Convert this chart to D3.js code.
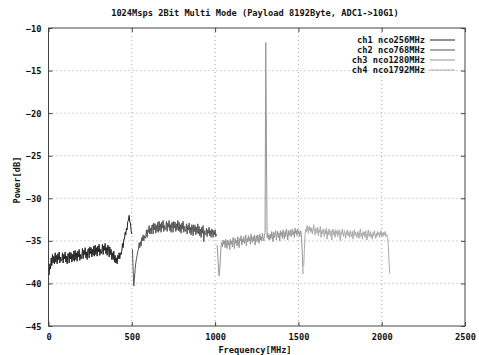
<!DOCTYPE html>
<html><head><meta charset="utf-8">
<script src="https://cdn.jsdelivr.net/npm/d3@7"></script>
<style>
html,body{margin:0;padding:0;background:#fff;}
text{font-family:"DejaVu Sans Mono","Liberation Mono",monospace;font-weight:bold;font-size:8.7px;fill:#111;}
</style></head>
<body><svg id="c" width="479" height="355"></svg>
<script>
const title = "1024Msps 2Bit Multi Mode (Payload 8192Byte, ADC1->10G1)";
const xLabel = "Frequency[MHz]";
const yLabel = "Power[dB]";
const xTicks = [0, 500, 1000, 1500, 2000, 2500];
const yTicks = [-10, -15, -20, -25, -30, -35, -40, -45];
const channels = ["ch1 nco256MHz", "ch2 nco768MHz", "ch3 nco1280MHz", "ch4 nco1792MHz"];
const colors = ["#222222", "#555555", "#959595", "#aaaaaa"];
const binStep = 4; // MHz per bin
const startFreq = [0, 504, 1012, 1532];

const ch1 = [-38.6,-39.0,-37.7,-38.3,-37.0,-37.9,-36.6,-37.6,-36.8,-37.7,
-36.4,-37.5,-36.7,-37.7,-36.5,-37.2,-36.3,-37.6,-36.9,-37.4,
-37.3,-36.4,-37.6,-36.6,-37.1,-36.3,-37.5,-36.8,-37.7,-36.5,
-36.5,-37.6,-36.3,-37.1,-36.4,-37.5,-36.6,-37.3,-36.2,-37.4,
-36.1,-37.2,-36.4,-37.4,-36.2,-36.9,-36.0,-37.3,-36.6,-37.1,
-36.8,-35.9,-37.1,-36.1,-36.6,-35.8,-37.0,-36.3,-37.2,-36.0,
-35.9,-37.0,-35.7,-36.5,-35.8,-36.9,-36.0,-36.7,-35.6,-36.8,
-35.5,-36.6,-35.8,-36.8,-35.6,-36.3,-35.4,-36.7,-36.0,-36.5,
-36.3,-35.4,-36.6,-35.6,-36.1,-35.3,-36.5,-35.8,-36.7,-35.5,
-35.7,-36.9,-35.7,-36.6,-36.0,-37.2,-36.4,-37.2,-36.2,-37.5,
-36.7,-37.6,-37.0,-37.7,-36.7,-37.1,-36.4,-37.1,-36.4,-36.6,
-36.2,-35.3,-35.8,-34.8,-34.8,-34.0,-34.3,-33.5,-33.7,-32.7,
-32.6,-32.0,-32.8,-32.9,-33.8,-34.2];

const ch2 = [-36.0,-38.5,-40.3,-39.4,-38.3,-37.6,-37.1,-36.7,-36.2,-36.0,
-35.2,-35.8,-35.1,-35.6,-34.6,-35.0,-34.3,-35.0,-34.4,-34.7,
-34.5,-33.7,-34.6,-33.7,-34.0,-33.2,-34.2,-33.5,-34.2,-33.2,
-33.1,-34.2,-32.9,-33.7,-33.0,-34.1,-33.2,-33.9,-32.8,-34.0,
-32.7,-33.8,-33.0,-34.0,-32.8,-33.5,-32.6,-33.9,-33.2,-33.7,
-33.6,-32.7,-33.9,-32.9,-33.4,-32.6,-33.8,-33.1,-34.0,-32.8,
-32.9,-34.0,-32.7,-33.5,-32.8,-33.9,-33.0,-33.7,-32.6,-33.8,
-32.8,-33.9,-33.1,-34.1,-32.9,-33.6,-32.7,-34.0,-33.3,-33.8,
-33.9,-33.0,-34.2,-33.2,-33.7,-32.9,-34.1,-33.4,-34.3,-33.1,
-33.3,-34.4,-33.1,-33.9,-33.2,-34.3,-33.4,-34.1,-33.0,-34.2,
-33.3,-34.4,-33.6,-34.6,-33.4,-34.1,-33.2,-35.1,-33.8,-34.3,
-34.2,-33.5,-34.5,-33.7,-34.1,-33.4,-34.4,-33.8,-34.6,-33.6,
-33.7,-34.6,-33.8,-34.3,-33.7,-34.5,-34.2];

const ch3 = [-35.5,-36.6,-38.2,-39.1,-38.4,-37.0,-35.6,-35.2,-35.7,-34.9,
-35.4,-35.0,-35.8,-34.8,-35.3,-35.9,-34.9,-35.5,-35.1,-36.0,
-34.8,-35.4,-35.0,-35.7,-34.6,-35.2,-35.9,-34.7,-35.3,-34.9,
-35.6,-34.5,-35.1,-35.8,-34.7,-35.0,-34.4,-35.5,-34.8,-35.2,
-34.5,-35.3,-34.9,-34.3,-35.6,-34.7,-35.1,-34.4,-35.0,-34.6,
-35.4,-34.2,-34.9,-35.2,-34.5,-35.0,-34.3,-35.5,-34.7,-34.4,
-35.1,-34.3,-34.8,-35.3,-34.2,-34.9,-34.5,-35.0,-34.1,-34.7,
-35.0,-34.4,-34.0,-11.7,-23.4,-34.6,-34.1,-34.8,-34.3,-34.9,
-34.2,-34.7,-33.9,-34.5,-35.1,-34.0,-34.6,-34.2,-33.8,-34.9,
-34.3,-33.9,-34.6,-34.1,-35.0,-33.8,-34.4,-34.0,-34.7,-33.7,
-34.3,-34.8,-33.9,-34.5,-33.6,-34.2,-34.9,-33.8,-34.4,-34.0,
-33.7,-34.5,-34.0,-33.6,-34.3,-33.9,-34.6,-33.5,-34.1,-33.8,
-34.4,-33.6,-34.2,-33.9,-34.5,-33.8,-34.0,-35.0,-36.8,-38.9];

const ch4 = [-38.0,-36.0,-34.3,-33.6,-33.9,-33.2,-33.7,-34.1,-33.3,-33.8,
-33.4,-34.0,-33.5,-34.2,-33.6,-33.1,-33.9,-34.3,-33.5,-33.8,
-34.1,-33.4,-34.4,-33.7,-34.0,-33.3,-34.6,-33.8,-34.2,-33.6,
-34.0,-34.5,-33.7,-34.2,-33.5,-34.8,-33.9,-34.3,-33.6,-34.1,
-34.4,-33.8,-34.9,-34.0,-33.6,-34.3,-33.9,-34.6,-33.7,-34.2,
-33.8,-34.5,-34.1,-33.7,-34.4,-35.0,-33.9,-34.3,-33.6,-34.2,
-34.5,-33.8,-34.1,-34.7,-33.9,-34.3,-33.7,-34.4,-34.0,-34.6,
-33.8,-34.2,-34.5,-33.9,-34.8,-34.1,-33.7,-34.4,-34.0,-34.3,
-34.6,-33.9,-34.2,-34.7,-34.0,-33.6,-34.5,-34.1,-34.8,-33.9,
-34.3,-34.0,-34.6,-33.8,-34.4,-34.9,-34.1,-33.7,-34.5,-34.2,
-33.9,-34.6,-34.2,-34.8,-34.0,-34.4,-33.8,-34.3,-34.7,-34.1,
-34.5,-33.9,-34.3,-34.0,-34.6,-34.2,-33.8,-34.4,-34.1,-34.5,
-34.0,-34.3,-33.9,-34.5,-34.2,-34.4,-34.6,-35.8,-37.4,-38.8];

const series = [ch1, ch2, ch3, ch4];

const svg = d3.select("#c");
const L = 48.5, R = 465, T = 28, B = 326;
const x = d3.scaleLinear().domain([0, 2500]).range([L, R]);
const y = d3.scaleLinear().domain([-45, -10]).range([B, T]);

// grid
const g = svg.append("g");
g.selectAll(".gx").data(xTicks.slice(1, -1)).join("line")
  .attr("x1", d => x(d)).attr("x2", d => x(d)).attr("y1", T).attr("y2", B)
  .attr("stroke", "#a8a8a8").attr("stroke-width", 1).attr("stroke-dasharray", "1,3");
g.selectAll(".gy").data(yTicks.slice(1, -1)).join("line")
  .attr("x1", L).attr("x2", R).attr("y1", d => y(d)).attr("y2", d => y(d))
  .attr("stroke", "#a8a8a8").attr("stroke-width", 1).attr("stroke-dasharray", "1,3");

// axes with mirrored inward ticks
const axB = svg.append("g").attr("transform", `translate(0,${B})`)
  .call(d3.axisBottom(x).tickValues(xTicks).tickSize(-4).tickPadding(8).tickFormat(d3.format("d")));
const axT = svg.append("g").attr("transform", `translate(0,${T})`)
  .call(d3.axisTop(x).tickValues(xTicks).tickSize(-4).tickFormat(""));
const axL = svg.append("g").attr("transform", `translate(${L},0)`)
  .call(d3.axisLeft(y).tickValues(yTicks).tickSize(-4).tickPadding(7).tickFormat(d3.format("d")));
const axR = svg.append("g").attr("transform", `translate(${R},0)`)
  .call(d3.axisRight(y).tickValues(yTicks).tickSize(-4).tickFormat(""));
[axB, axT, axL, axR].forEach(a => {
  a.select(".domain").remove();
  a.selectAll(".tick line").attr("stroke", "#444");
  a.selectAll("text").attr("fill", "#111").attr("font-family", null).attr("font-size", null);
});
axL.selectAll("text").attr("dy", "0.35em");

// lines
const line = d3.line().x(d => x(d[0])).y(d => y(d[1]));
series.forEach((vals, k) => {
  const pts = vals.map((v, i) => [startFreq[k] + i * binStep, v]);
  svg.append("path").datum(pts).attr("d", line)
    .attr("fill", "none").attr("stroke", colors[k]).attr("stroke-width", 1);
});

// frame
svg.append("rect").attr("x", L).attr("y", T).attr("width", R - L).attr("height", B - T)
  .attr("fill", "none").attr("stroke", "#444").attr("stroke-width", 1);

// legend
channels.forEach((c, k) => {
  const yy = 40 + k * 10;
  svg.append("text").attr("x", 425).attr("y", yy).attr("dy", "0.35em").attr("text-anchor", "end").text(c);
  svg.append("line").attr("x1", 430).attr("x2", 455).attr("y1", yy).attr("y2", yy)
    .attr("stroke", colors[k]).attr("stroke-width", 1);
});

// titles
svg.append("text").attr("x", 255).attr("y", 13).attr("dy", "0.35em").attr("text-anchor", "middle").text(title);
svg.append("text").attr("x", 255).attr("y", 350).attr("dy", "0.35em").attr("text-anchor", "middle").text(xLabel);
svg.append("text").attr("transform", "translate(17,180) rotate(-90)").attr("dy", "0.35em").attr("text-anchor", "middle").text(yLabel);
</script></body></html>
